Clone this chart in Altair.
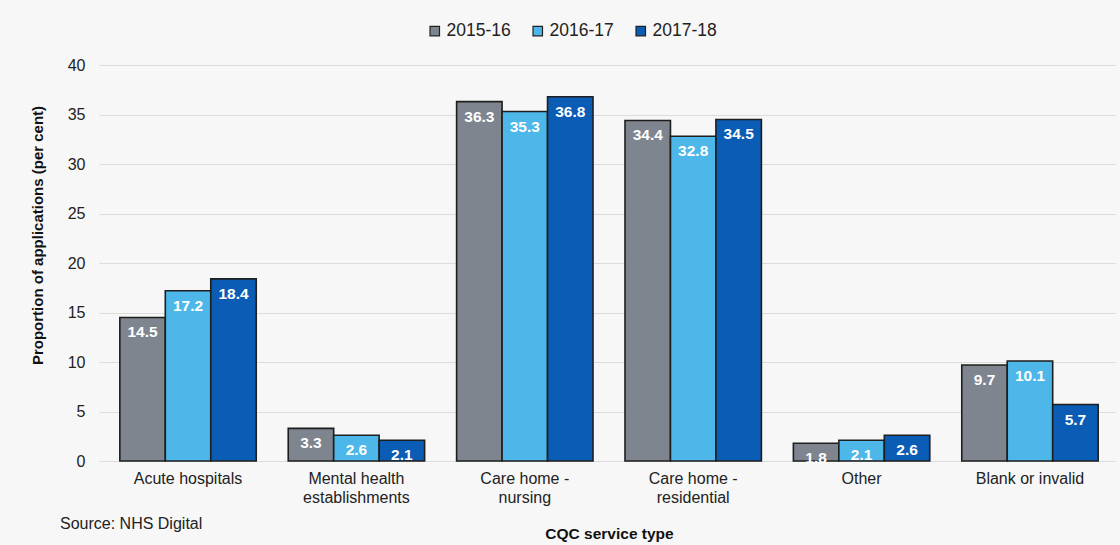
import altair as alt
import pandas as pd

categories = ["Acute hospitals", "Mental health|establishments", "Care home -|nursing",
              "Care home -|residential", "Other", "Blank or invalid"]
years = ["2015-16", "2016-17", "2017-18"]
v2015 = [14.5, 3.3, 36.3, 34.4, 1.8, 9.7]
v2016 = [17.2, 2.6, 35.3, 32.8, 2.1, 10.1]
v2017 = [18.4, 2.1, 36.8, 34.5, 2.6, 5.7]
colors = ["#7e858f", "#4cb7e8", "#0b5cb5"]

rows = []
for i, c in enumerate(categories):
    for y, vals in zip(years, [v2015, v2016, v2017]):
        rows.append({"cat": c, "year": y, "value": vals[i], "label": f"{vals[i]:.1f}"})
df = pd.DataFrame(rows)

FONT = "Liberation Sans"

xenc = alt.X("cat:N", sort=categories,
             scale=alt.Scale(paddingInner=0.19, paddingOuter=0.1),
             axis=alt.Axis(title="CQC service type", labelExpr="split(datum.value, '|')",
                           labelAngle=0, labelFontSize=16, labelColor="#222222",
                           labelPadding=9, ticks=False, domain=False,
                           titleFontSize=15.5, titleFontWeight="bold", titleColor="#111111",
                           titlePadding=21, labelLineHeight=19))
yenc = alt.Y("value:Q", scale=alt.Scale(domain=[0, 40]),
             axis=alt.Axis(title="Proportion of applications (per cent)", values=list(range(0, 41, 5)),
                           labelFontSize=16, labelColor="#222222", labelPadding=14,
                           tickSize=4, tickColor="#d9d9d9", domain=False, gridColor="#dcdcdc",
                           titleFontSize=15, titleFontWeight="bold", titleColor="#111111",
                           titlePadding=22, titleY=170))

bars = alt.Chart(df).mark_bar(stroke="#1e1e1e", strokeWidth=1.6).encode(
    x=xenc, y=yenc,
    xOffset=alt.XOffset("year:N", sort=years, scale=alt.Scale(paddingInner=0)),
    color=alt.Color("year:N", sort=years, scale=alt.Scale(domain=years, range=colors),
                    legend=alt.Legend(title=None, orient="none", legendX=323, legendY=-43,
                                      direction="horizontal", symbolType="square",
                                      symbolSize=90, symbolStrokeColor="#222222",
                                      symbolStrokeWidth=1.2, labelFontSize=17.5,
                                      labelColor="#222222", columnPadding=18,
                                      labelOffset=3, symbolOffset=0)),
)

texts = alt.Chart(df).mark_text(color="white", fontWeight="bold", fontSize=15.5,
                                baseline="top", dy=8, font=FONT).encode(
    x=alt.X("cat:N", sort=categories), y="value:Q",
    xOffset=alt.XOffset("year:N", sort=years),
    text="label:N",
)

source = alt.Chart(pd.DataFrame({"t": ["Source: NHS Digital"]})).mark_text(
    align="left", baseline="middle", fontSize=16, color="#222222", font=FONT
).encode(x=alt.value(-43), y=alt.value(459), text="t:N")

chart = alt.layer(bars, texts, source).properties(
    width=1012, height=396,
    background="#f7f7f7",
    padding={"left": 103, "top": 65, "right": 5, "bottom": 84},
    autosize=alt.AutoSizeParams(type="none"),
).configure(font=FONT).configure_view(stroke=None)

chart.save("out.html", embed_options={"renderer": "svg", "actions": False})
